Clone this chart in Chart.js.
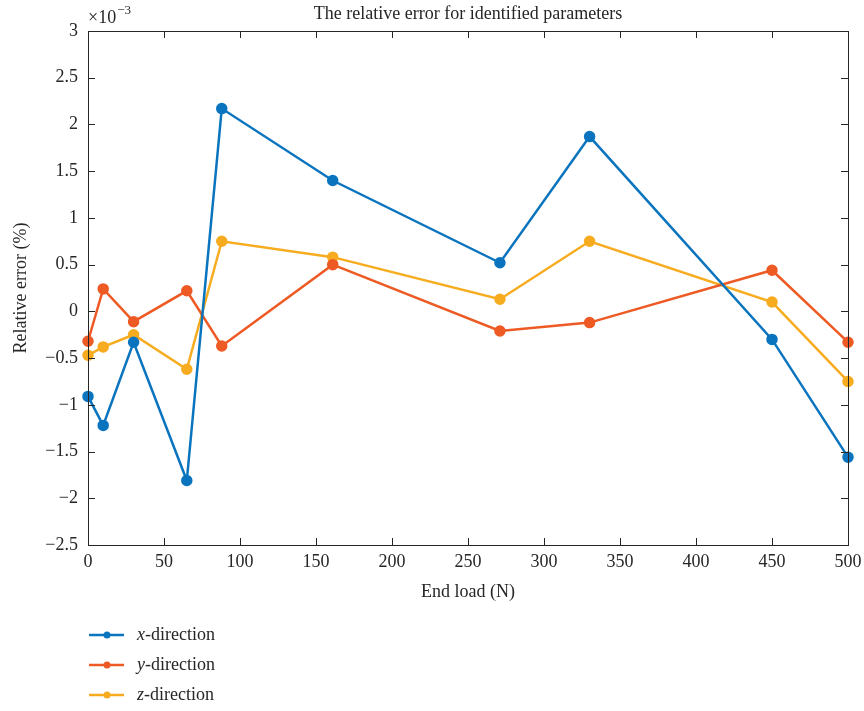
<!DOCTYPE html>
<html>
<head>
<meta charset="utf-8">
<script src="https://cdn.jsdelivr.net/npm/chart.js@4/dist/chart.umd.min.js"></script>
<style>
  html, body { margin: 0; padding: 0; background: #fff; }
  #wrap { width: 864px; height: 711px; position: relative; }
</style>
</head>
<body>
<div id="wrap"><canvas id="errChart" width="864" height="711"></canvas></div>
<script>
// End load (N)
const loads = [0, 10, 30, 65, 88, 161, 271, 330, 450, 500];
// relative error, in units of 1e-3
const xDir = [-0.91, -1.22, -0.33, -1.81, 2.17, 1.40, 0.52, 1.87, -0.30, -1.56];
const yDir = [-0.32, 0.24, -0.11, 0.22, -0.37, 0.50, -0.21, -0.12, 0.44, -0.33];
const zDir = [-0.47, -0.38, -0.25, -0.62, 0.75, 0.58, 0.13, 0.75, 0.10, -0.75];
const xTicks = [0, 50, 100, 150, 200, 250, 300, 350, 400, 450, 500];
const yTicks = [-2.5, -2, -1.5, -1, -0.5, 0, 0.5, 1, 1.5, 2, 2.5, 3];

const seriesNames = ['x', 'y', 'z'];
const colors = ['#0A74BE', '#EE5A24', '#F7AC1F'];
const serif = '"Liberation Serif", "DejaVu Serif", serif';

const toPts = vals => vals.map((v, i) => ({ x: loads[i], y: v }));

// box, inward ticks, exponent label and legend
const framePlugin = {
    id: 'frame',
    afterDraw(chart) {
        const c = chart.ctx;
        const a = chart.chartArea;
        const xs = chart.scales.x, ys = chart.scales.y;
        c.save();
        c.strokeStyle = '#262626';
        c.lineWidth = 1;
        c.strokeRect(a.left + 0.5, a.top + 0.5, a.right - a.left, a.bottom - a.top);
        c.beginPath();
        xTicks.forEach(t => {
            const px = Math.round(xs.getPixelForValue(t)) + 0.5;
            c.moveTo(px, a.bottom); c.lineTo(px, a.bottom - 7);
            c.moveTo(px, a.top); c.lineTo(px, a.top + 7);
        });
        yTicks.forEach(t => {
            const py = Math.round(ys.getPixelForValue(t)) + 0.5;
            c.moveTo(a.left, py); c.lineTo(a.left + 7, py);
            c.moveTo(a.right, py); c.lineTo(a.right - 7, py);
        });
        c.stroke();

        // x10^-3
        c.fillStyle = '#262626';
        c.textBaseline = 'alphabetic';
        c.textAlign = 'left';
        c.font = '18px ' + serif;
        c.fillText('\u00d710', 88, 23);
        const w = c.measureText('\u00d710').width;
        c.font = '13px ' + serif;
        c.fillText('\u22123', 88 + w + 1, 14);

        // legend
        seriesNames.forEach((n, i) => {
            const y = 635 + i * 30;
            c.strokeStyle = colors[i];
            c.lineWidth = 2.5;
            c.beginPath(); c.moveTo(89, y); c.lineTo(124, y); c.stroke();
            c.fillStyle = colors[i];
            c.beginPath(); c.arc(107, y, 3.5, 0, Math.PI * 2); c.fill();
            c.fillStyle = '#262626';
            c.textBaseline = 'middle';
            c.font = 'italic 18px ' + serif;
            c.fillText(n, 137, y);
            const nw = c.measureText(n).width;
            c.font = '18px ' + serif;
            c.fillText('-direction', 137 + nw, y);
        });
        c.restore();
    }
};

const fmt = v => String(v).replace('-', '\u2212');

new Chart(document.getElementById('errChart'), {
    type: 'line',
    data: {
        datasets: [xDir, yDir, zDir].map((vals, i) => ({
            label: seriesNames[i] + '-direction',
            data: toPts(vals),
            borderColor: colors[i],
            backgroundColor: colors[i],
            borderWidth: 2.5,
            pointRadius: 4.5,
            pointHoverRadius: 4.5,
            tension: 0,
            clip: false
        }))
    },
    options: {
        responsive: false,
        animation: false,
        layout: { padding: { left: 0, right: 16, top: 31, bottom: 106 } },
        plugins: {
            legend: { display: false },
            tooltip: { enabled: false },
            title: { display: false }
        },
        scales: {
            x: {
                type: 'linear',
                min: 0, max: 500,
                afterBuildTicks: s => { s.ticks = xTicks.map(v => ({ value: v })); },
                afterFit: s => { s.height = 60; s.paddingLeft = 0; s.paddingRight = 0; },
                grid: { display: false, drawTicks: false },
                border: { display: false },
                ticks: { color: '#262626', font: { family: serif, size: 18 }, padding: 6, maxRotation: 0, callback: v => fmt(v) },
                title: { display: true, text: 'End load (N)', color: '#262626', font: { family: serif, size: 18 }, padding: { top: 2, bottom: 2 } }
            },
            y: {
                type: 'linear',
                min: -2.5, max: 3,
                afterBuildTicks: s => { s.ticks = yTicks.map(v => ({ value: v })); },
                afterFit: s => { s.width = 88; s.paddingTop = 0; s.paddingBottom = 0; },
                grid: { display: false, drawTicks: false },
                border: { display: false },
                ticks: { color: '#262626', font: { family: serif, size: 18 }, padding: 10, callback: v => fmt(v) },
                title: { display: true, text: 'Relative error (%)', color: '#262626', font: { family: serif, size: 18 }, padding: { top: 10, bottom: 0 } }
            }
        }
    },
    plugins: [framePlugin, {
        id: 'topTitle',
        afterDraw(chart) {
            const c = chart.ctx, a = chart.chartArea;
            c.save();
            c.fillStyle = '#262626';
            c.font = '18px ' + serif;
            c.textAlign = 'center';
            c.textBaseline = 'middle';
            c.fillText('The relative error for identified parameters', (a.left + a.right) / 2, 14);
            c.restore();
        }
    }]
});
</script>
</body>
</html>
